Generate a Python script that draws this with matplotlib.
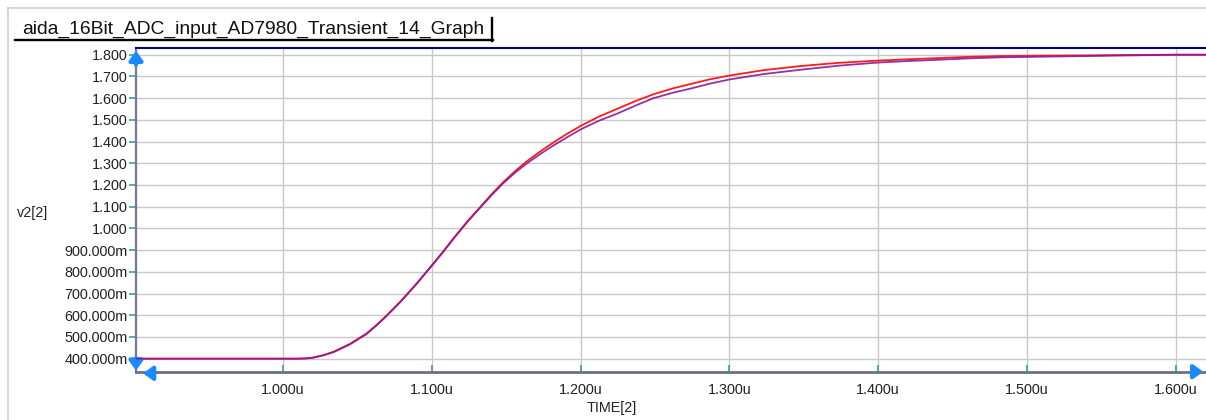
import matplotlib
matplotlib.use("Agg")
import matplotlib.pyplot as plt
from matplotlib.lines import Line2D

# ---- data (time in microseconds, voltage in volts) ----
time_us = [0.901, 1.000, 1.010, 1.015, 1.020, 1.027, 1.034, 1.045, 1.056, 1.062,
           1.068, 1.073, 1.079, 1.084, 1.090, 1.100, 1.107, 1.115, 1.124, 1.133,
           1.140, 1.148, 1.156, 1.164, 1.173, 1.182, 1.190, 1.200, 1.212, 1.225,
           1.237, 1.249, 1.262, 1.275, 1.287, 1.300, 1.323, 1.348, 1.374, 1.400,
           1.420, 1.438, 1.460, 1.483, 1.510, 1.540, 1.570, 1.600, 1.620]
v_red = [0.400, 0.400, 0.400, 0.401, 0.405, 0.416, 0.432, 0.468, 0.515, 0.550,
         0.588, 0.622, 0.664, 0.702, 0.748, 0.830, 0.888, 0.958, 1.033, 1.102,
         1.156, 1.213, 1.264, 1.310, 1.355, 1.397, 1.432, 1.472, 1.514, 1.552,
         1.587, 1.618, 1.645, 1.667, 1.687, 1.704, 1.729, 1.748, 1.763, 1.773,
         1.779, 1.784, 1.790, 1.794, 1.796, 1.797, 1.799, 1.800, 1.800]
v_purple = [0.400, 0.400, 0.400, 0.401, 0.404, 0.415, 0.430, 0.466, 0.513, 0.548,
            0.586, 0.620, 0.662, 0.700, 0.746, 0.828, 0.886, 0.956, 1.031, 1.099,
            1.152, 1.208, 1.257, 1.300, 1.343, 1.383, 1.416, 1.456, 1.495, 1.530,
            1.566, 1.600, 1.625, 1.646, 1.667, 1.686, 1.711, 1.731, 1.750, 1.764,
            1.771, 1.776, 1.783, 1.788, 1.791, 1.794, 1.797, 1.800, 1.800]

y_ticks = [0.4, 0.5, 0.6, 0.7, 0.8, 0.9, 1.0, 1.1, 1.2, 1.3, 1.4, 1.5, 1.6, 1.7, 1.8]
y_tick_labels = ["400.000m", "500.000m", "600.000m", "700.000m", "800.000m",
                 "900.000m", "1.000", "1.100", "1.200", "1.300", "1.400",
                 "1.500", "1.600", "1.700", "1.800"]
x_ticks = [1.0, 1.1, 1.2, 1.3, 1.4, 1.5, 1.6]
x_tick_labels = ["1.000u", "1.100u", "1.200u", "1.300u", "1.400u", "1.500u", "1.600u"]

title_text = "aida_16Bit_ADC_input_AD7980_Transient_14_Graph"
y_label = "v2[2]"
x_label = "TIME[2]"

plt.rcParams['font.family'] = ['Liberation Sans', 'DejaVu Sans']

W, H = 1206, 420
fig = plt.figure(figsize=(W / 100, H / 100), dpi=100)
fig.patch.set_facecolor("white")
renderer = fig.canvas.get_renderer()


def fit_size(text, target_px, base=11.0):
    t = fig.text(0, 0, text, fontsize=base)
    w = t.get_window_extent(renderer=renderer).width
    t.remove()
    return base * target_px / w


tick_fs = fit_size("900.000m", 64.0)
title_fs = fit_size(title_text, 460.0)


def fx(px):
    return px / W


def fy(py):
    return 1 - py / H


# outer light frame
fig.add_artist(Line2D([fx(8), fx(8)], [fy(8), 0], color="#cfcfcf", lw=1.2))
fig.add_artist(Line2D([fx(8), 1], [fy(8), fy(8)], color="#cfcfcf", lw=1.2))

ax_l, ax_r, ax_t, ax_b = 136, 1206, 48, 371.7
ax = fig.add_axes([fx(ax_l), fy(ax_b), fx(ax_r - ax_l), (ax_b - ax_t) / H])
ax.set_xlim(0.9012, 1.6203)
ax.set_ylim(0.340, 1.831)

ax.plot(time_us, v_red, color="#ff1a1a", lw=1.3, zorder=3)
ax.plot(time_us, v_purple, color="#8a1a9a", lw=1.3, alpha=0.9, zorder=4)

ax.set_yticks(y_ticks)
ax.set_yticklabels(y_tick_labels, fontsize=tick_fs, color="#222222")
ax.set_xticks(x_ticks)
ax.set_xticklabels(x_tick_labels, fontsize=tick_fs, color="#222222")
ax.tick_params(axis="y", direction="out", length=5, width=1.2, color="#3aa0a0", pad=1)
ax.tick_params(axis="x", direction="in", length=5, width=1.2, color="#3aa0a0", pad=8)
ax.grid(True, color="#c8c8c8", lw=1.0, zorder=0)
ax.set_axisbelow(True)

ax.spines["right"].set_visible(False)
ax.spines["top"].set_color("#000080")
ax.spines["top"].set_linewidth(1.5)
ax.spines["left"].set_color("#777790")
ax.spines["left"].set_linewidth(1.6)
ax.spines["bottom"].set_color("#6e6e88")
ax.spines["bottom"].set_linewidth(2.0)

# y label
fig.text(fx(17), fy(213), y_label, fontsize=tick_fs, ha="left", va="center", color="#222222")
# x label
fig.text(fx(612), fy(408), x_label, fontsize=tick_fs, ha="center", va="center", color="#222222")

# title tab with shadow
fig.add_artist(Line2D([fx(15), fx(493)], [fy(40), fy(40)], color="black", lw=1.7))
fig.add_artist(Line2D([fx(492), fx(492)], [fy(18), fy(41)], color="black", lw=1.7))
fig.text(fx(22), fy(29), title_text, fontsize=title_fs, ha="left", va="center", color="#111111")

# blue axis arrows
arrow_c = "#1a88ff"
akw = dict(arrowstyle="-|>,head_length=0.55,head_width=0.4", color=arrow_c, lw=3)
ax.annotate("", xy=(0, 1.0), xytext=(0, 0.94), xycoords="axes fraction",
            textcoords="axes fraction", arrowprops=akw, annotation_clip=False)
ax.annotate("", xy=(0, -0.005), xytext=(0, 0.05), xycoords="axes fraction",
            textcoords="axes fraction", arrowprops=akw, annotation_clip=False)
ax.annotate("", xy=(0.004, -0.005), xytext=(0.018, -0.005), xycoords="axes fraction",
            textcoords="axes fraction", arrowprops=akw, annotation_clip=False)
ax.annotate("", xy=(1.0, 0.0), xytext=(0.988, 0.0), xycoords="axes fraction",
            textcoords="axes fraction", arrowprops=akw, annotation_clip=False)

fig.savefig("out.png", dpi=100)
